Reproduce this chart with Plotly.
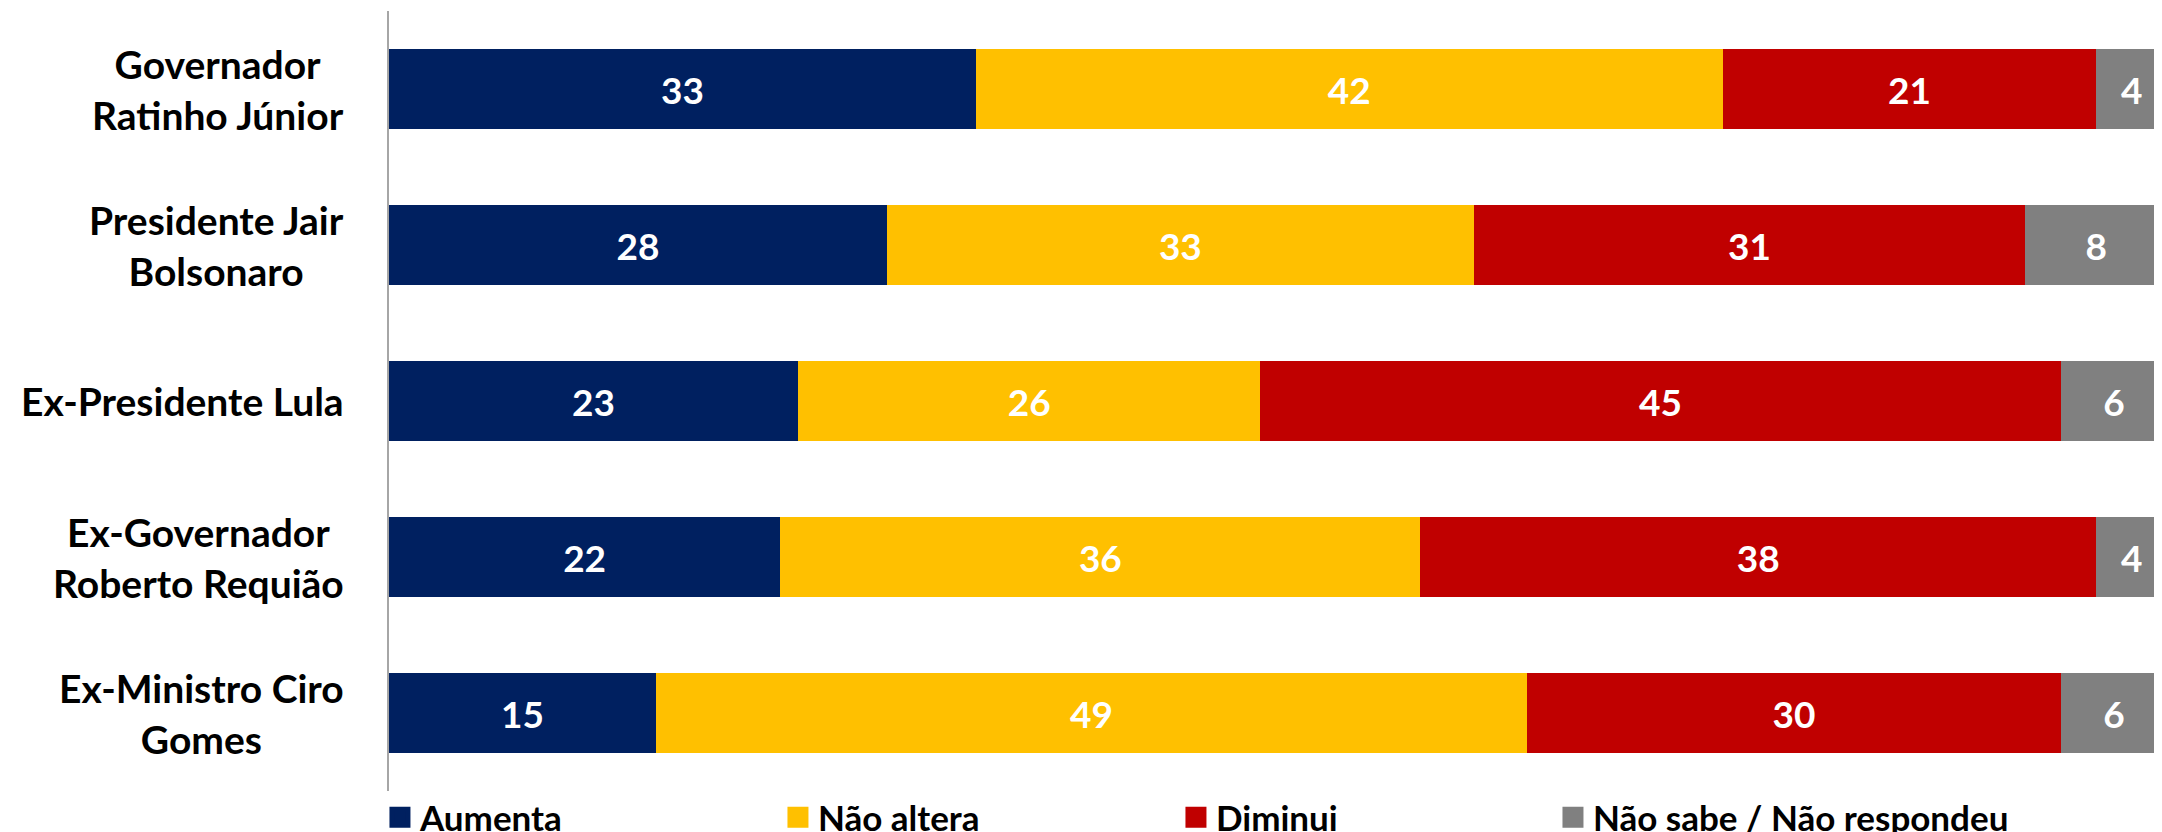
import plotly.graph_objects as go

# ---- data ----
categories = [
    "Governador<br>Ratinho Júnior",
    "Presidente Jair<br>Bolsonaro",
    "Ex-Presidente Lula",
    "Ex-Governador<br>Roberto Requião",
    "Ex-Ministro Ciro<br>Gomes",
]
series_names = ["Aumenta", "Não altera", "Diminui", "Não sabe / Não respondeu"]
aumenta = [33, 28, 23, 22, 15]
nao_altera = [42, 33, 26, 36, 49]
diminui = [21, 31, 45, 38, 30]
nao_sabe = [4, 8, 6, 4, 6]
colors = ["#002060", "#FFC000", "#C00000", "#808080"]

series_values = [aumenta, nao_altera, diminui, nao_sabe]

FONT = "Lato"
# the page body adds an 8px offset, so the figure is drawn 8px smaller
W, H = 2154, 824
ML, MR, MT, MB = 381, 0, 3, 41

fig = go.Figure()
for name, vals, col in zip(series_names, series_values, colors):
    fig.add_trace(go.Bar(
        y=categories, x=vals, orientation="h", name=name,
        marker=dict(color=col, line=dict(width=0)),
        text=[str(v) for v in vals], textposition="inside",
        insidetextanchor="middle", textangle=0,
        textfont=dict(family=FONT, size=37, color="white", weight="bold"),
        showlegend=False, hoverinfo="skip",
    ))

# legend entries with square symbols (last one in its own legend so it is not clipped)
legend_ids = ["legend", "legend", "legend", "legend2"]
for name, col, lg in zip(series_names, colors, legend_ids):
    fig.add_trace(go.Scatter(
        x=[None], y=[None], mode="markers", name=name,
        marker=dict(symbol="square", size=16, color=col,
                    line=dict(color=col, width=5)),
        showlegend=True, legend=lg,
    ))

annotations = []
for cat in categories:
    annotations.append(dict(
        x=-0.0243, xref="paper", y=cat, yref="y",
        text=cat, showarrow=False, xanchor="right", yanchor="middle",
        align="center",
        font=dict(family=FONT, size=39, color="black", weight="bold"),
    ))

legend_font = dict(family=FONT, size=35, color="black", weight="bold")

fig.update_layout(
    width=W, height=H,
    margin=dict(l=ML, r=MR, t=MT, b=MB, pad=0, autoexpand=False),
    barmode="stack", bargap=0.487,
    plot_bgcolor="white", paper_bgcolor="white",
    xaxis=dict(range=[0, 99.7], visible=False, showgrid=False, zeroline=False),
    yaxis=dict(
        type="category", range=[4.5, -0.5], showticklabels=False,
        showline=True, linecolor="#A6A6A6", linewidth=2, ticks="",
        showgrid=False, zeroline=False,
    ),
    legend=dict(
        orientation="h", x=-0.0051, xanchor="left", y=-0.034, yanchor="middle",
        traceorder="normal", font=legend_font,
        entrywidth=353, entrywidthmode="pixels", itemsizing="trace",
        bgcolor="rgba(0,0,0,0)", tracegroupgap=0,
    ),
    legend2=dict(
        orientation="h", x=0.6565, xanchor="left", y=-0.034, yanchor="middle",
        traceorder="normal", font=legend_font, itemsizing="trace",
        bgcolor="rgba(0,0,0,0)",
    ),
    annotations=annotations,
    showlegend=True,
)

fig.write_html("out.html")
